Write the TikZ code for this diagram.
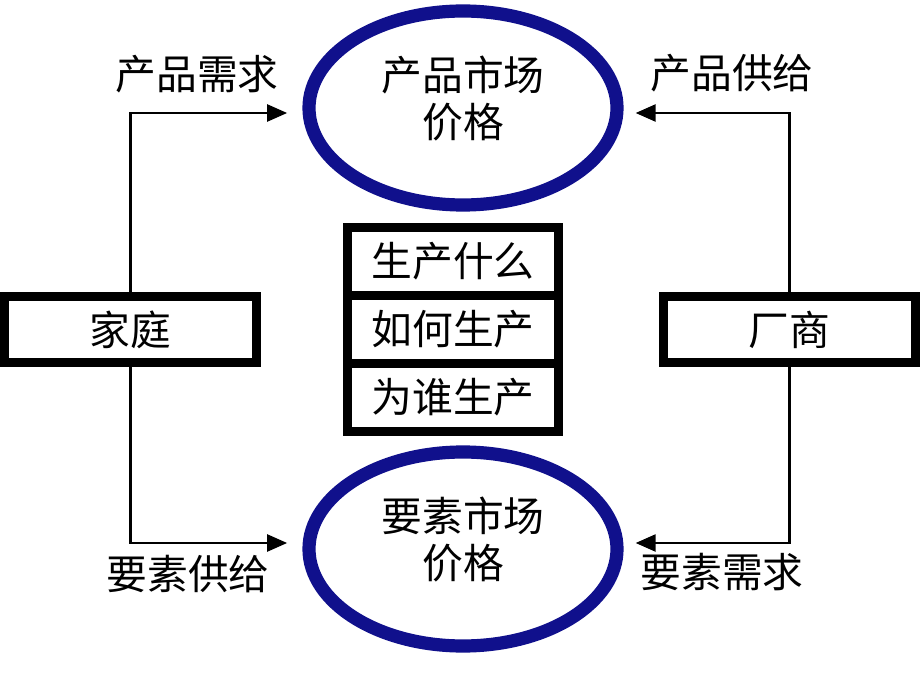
\documentclass[tikz,border=0pt]{standalone}
\usepackage{fontspec}
\newfontfamily\cjk{Noto Sans CJK SC}
\usetikzlibrary{shapes.geometric,arrows.meta}
\definecolor{marketblue}{RGB}{16,16,140}

\begin{document}
\begin{tikzpicture}[
    every node/.style={font=\cjk\fontsize{29}{33}\selectfont},
    market/.style={ellipse, draw=marketblue, line width=0.33cm, minimum width=7.7cm, minimum height=4.85cm, inner sep=0pt, align=center, text depth=0.57cm},
    agent/.style={draw, line width=0.225cm, minimum width=6.3cm, minimum height=1.65cm, inner sep=0pt},
    question/.style={draw, line width=0.225cm, minimum width=5.275cm, minimum height=1.7cm, inner sep=0pt},
    flow/.style={line width=2pt, -{Triangle[length=0.5cm,width=0.42cm]}}
]
    % Page size
    \useasboundingbox (0,0) rectangle (23,17.25);

    % Markets
    \node[market] (cpsc) at (11.575,14.55) {产品市场\\价格};
    \node[market] (yssc) at (11.575,3.525) {要素市场\\价格};

    % Households and firms
    \node[agent] (jiating) at (3.2625,9.0125) {家庭};
    \node[agent] (changshang) at (19.7375,9.0125) {厂商};

    % The three questions
    \node[question] (shenme) at (11.325,10.7125) {生产什么};
    \node[question] (ruhe) at (11.325,9.0125) {如何生产};
    \node[question] (weishui) at (11.325,7.3125) {为谁生产};

    % Flows
    \draw[flow, shorten >=0.38cm] (jiating.north) |- ([yshift=-0.125cm]cpsc.west);
    \draw[flow, shorten >=0.38cm] (jiating.south) |- ([yshift=0.15cm]yssc.west);
    \draw[flow, shorten >=0.3cm] (changshang.north) |- ([yshift=-0.125cm]cpsc.east);
    \draw[flow, shorten >=0.3cm] (changshang.south) |- ([yshift=0.15cm]yssc.east);

    % Flow labels
    \node (cpxq) at (4.925,15.4) {产品需求};
    \node (ysgj) at (4.7,2.9) {要素供给};
    \node (cpgj) at (18.3,15.425) {产品供给};
    \node (ysxq) at (18.05,2.95) {要素需求};

\end{tikzpicture}
\end{document}
